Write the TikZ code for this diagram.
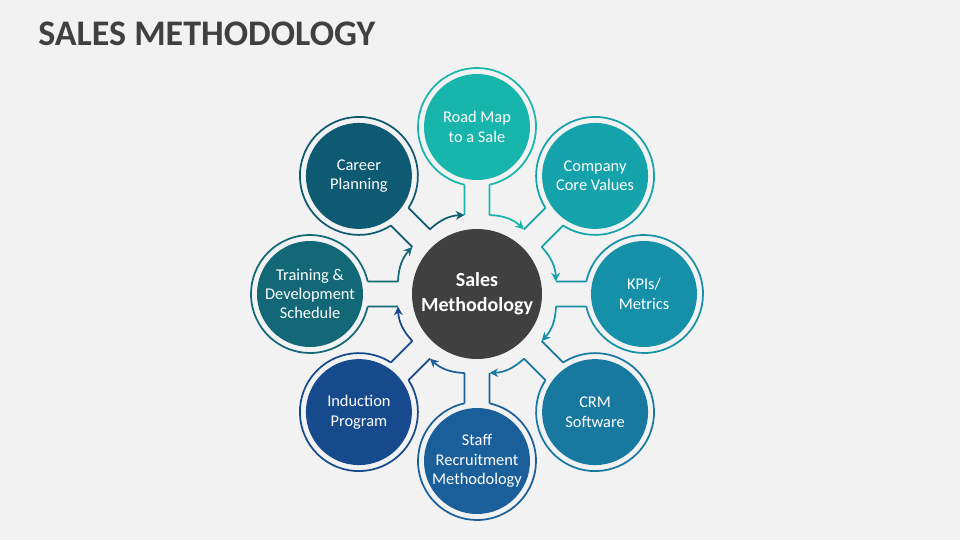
\documentclass[tikz,border=0pt]{standalone}
\usepackage{fontspec}
\setmainfont{Carlito}
\usetikzlibrary{arrows.meta}
\definecolor{bg}{HTML}{F2F2F2}
\definecolor{cA}{HTML}{17B5AB}
\definecolor{cB}{HTML}{14A3AA}
\definecolor{cC}{HTML}{1590A8}
\definecolor{cD}{HTML}{1779A0}
\definecolor{cE}{HTML}{1A5F99}
\definecolor{cF}{HTML}{174A8C}
\definecolor{cG}{HTML}{136877}
\definecolor{cH}{HTML}{0E5A72}
\definecolor{ctr}{HTML}{404040}
\begin{document}
\begin{tikzpicture}[x=0.75pt,y=0.75pt,
  bubble/.style={circle,minimum size=79.5pt,inner sep=0,text=white,font=\fontsize{12.3}{14.5}\selectfont,align=center},
  hub/.style={circle,fill=ctr,minimum size=97.5pt,inner sep=0,text=white,font=\bfseries\fontsize{15}{19}\selectfont,align=center},
  ring/.style={line width=1.3pt},
  arr/.style={line width=1.3pt,-{Stealth[length=6.5pt,width=6.5pt]}}]
\fill[bg] (-477,294) rectangle (483,-246);
\useasboundingbox (-477,294) rectangle (483,-246);
\node[anchor=west,inner sep=0,font=\bfseries\fontsize{27}{32}\selectfont,text=ctr] (title) at (-439,260) {SALES METHODOLOGY};
\node[hub] (c) at (0,0) {Sales\\Methodology};
\foreach \i/\t/\col/\lab in {1/90/cA/{Road Map\\to a Sale},2/45/cB/{Company\\Core Values},3/0/cC/{KPIs/\\Metrics},4/-45/cD/{CRM\\Software},5/-90/cE/{Staff\\Recruitment\\Methodology},6/-135/cF/{Induction\\Program},7/180/cG/{Training \&\\Development\\Schedule},8/135/cH/{Career\\Planning}}{
  \node[bubble,fill=\col] (n\i) at (\t:167) {\lab};
  \draw[ring,draw=\col] (\t:167) ++(\t+180+12.2:59) arc[start angle=\t+180+12.2,delta angle=335.6,radius=59];
  \coordinate (p\i) at (\t+9:80);
  \coordinate (q\i) at (\t-9:80);
  \draw[ring,draw=\col] (\t+6.5:110) -- (p\i);
  \draw[ring,draw=\col] (\t-6.5:110) -- (q\i);
}
\foreach \i/\j/\col in {8/1/cH,1/2/cA,2/3/cB,3/4/cC,4/5/cD,5/6/cE,6/7/cF,7/8/cG}{
  \draw[arr,draw=\col] (q\i) to[bend left=20] (p\j);
}
\end{tikzpicture}
\end{document}
